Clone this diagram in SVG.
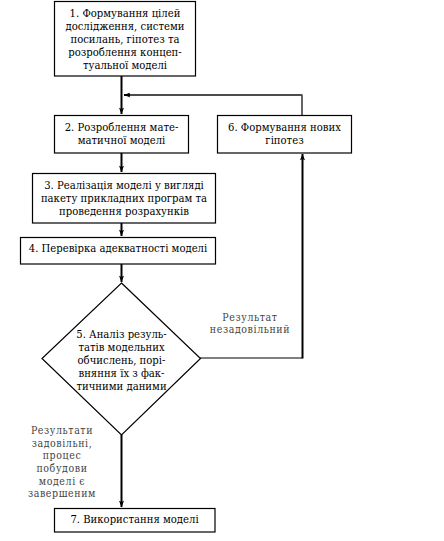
<svg xmlns="http://www.w3.org/2000/svg" width="444" height="541" viewBox="0 0 444 541">
<style>
.box{fill:#fff;stroke:#000;stroke-width:1.2}
.t{font-family:"DejaVu Serif Condensed","DejaVu Serif","Liberation Serif",serif;font-stretch:condensed;font-size:11.2px;fill:#000;text-anchor:middle}
.lbl{font-family:"DejaVu Serif Condensed","DejaVu Serif","Liberation Serif",serif;font-stretch:condensed;font-size:10.5px;fill:#444;text-anchor:middle;letter-spacing:0.6px}
.c{fill:none;stroke:#000;stroke-width:2}
.c1{fill:none;stroke:#000;stroke-width:1.2}
</style>
<defs>
<marker id="ah" viewBox="0 0 10 8" refX="10" refY="4" markerWidth="7" markerHeight="5" markerUnits="userSpaceOnUse" orient="auto">
<path d="M0,0 L10,4 L0,8 L2,4 Z" fill="#000"/>
</marker>
</defs>
<rect width="444" height="541" fill="#fff"/>
<g id="connectors">
<line class="c" x1="121.5" y1="76" x2="121.5" y2="114" marker-end="url(#ah)"/>
<polyline class="c1" points="302,115 302,95 135,95"/>
<line class="c" x1="302" y1="95" x2="124" y2="95" marker-end="url(#ah)"/>
<line x1="302" y1="95" x2="130" y2="95" stroke="#fff" stroke-width="0.6"/>
<line class="c" x1="121.5" y1="153" x2="121.5" y2="172" marker-end="url(#ah)"/>
<line class="c" x1="121.5" y1="223" x2="121.5" y2="236" marker-end="url(#ah)"/>
<line class="c" x1="121.5" y1="264" x2="121.5" y2="282" marker-end="url(#ah)"/>
<polyline class="c1" points="200,358 302.5,358"/>
<line class="c" x1="302.5" y1="358.5" x2="302.5" y2="154" marker-end="url(#ah)"/>
<line class="c" x1="121.5" y1="435" x2="121.5" y2="507" marker-end="url(#ah)"/>
</g>
<g id="node1">
<rect class="box" x="54.5" y="1.5" width="141" height="74.5"/>
<text class="t" x="125" y="17">1. Формування цілей</text>
<text class="t" x="125" y="30">дослідження, системи</text>
<text class="t" x="125" y="43">посилань, гіпотез та</text>
<text class="t" x="125" y="56">розроблення концеп-</text>
<text class="t" x="125" y="69">туальної моделі</text>
</g>
<g id="node2">
<rect class="box" x="54.5" y="115.5" width="134" height="37.5"/>
<text class="t" x="121.5" y="130.5">2. Розроблення мате-</text>
<text class="t" x="121.5" y="143.5">матичної моделі</text>
</g>
<g id="node6">
<rect class="box" x="217.5" y="115.5" width="134" height="37.5"/>
<text class="t" x="284.5" y="130.5">6. Формування нових</text>
<text class="t" x="284.5" y="143.5">гіпотез</text>
</g>
<g id="node3">
<rect class="box" x="32.5" y="173.5" width="183" height="49.5"/>
<text class="t" x="124" y="189">3. Реалізація моделі у вигляді</text>
<text class="t" x="124" y="202">пакету прикладних програм та</text>
<text class="t" x="124" y="215">проведення розрахунків</text>
</g>
<g id="node4">
<rect class="box" x="20.5" y="237.5" width="195" height="26.5"/>
<text class="t" x="118" y="252">4. Перевірка адекватності моделі</text>
</g>
<g id="node5">
<polygon class="box" points="121.5,283 200.5,358.5 121.5,435 42,358.5"/>
<text class="t" x="121.5" y="338">5. Аналіз резуль-</text>
<text class="t" x="121.5" y="351">татів модельних</text>
<text class="t" x="121.5" y="364">обчислень, порі-</text>
<text class="t" x="121.5" y="377">вняння їх з фак-</text>
<text class="t" x="121.5" y="390">тичними даними</text>
</g>
<g id="node7">
<rect class="box" x="54.5" y="508.5" width="160.5" height="23.5"/>
<text class="t" x="134.5" y="523">7. Використання моделі</text>
</g>
<g id="labels">
<text class="lbl" x="250" y="321">Результат</text>
<text class="lbl" x="250" y="333">незадовільний</text>
<text class="lbl" x="62" y="434">Результати</text>
<text class="lbl" x="62" y="447">задовільні,</text>
<text class="lbl" x="62" y="459">процес</text>
<text class="lbl" x="62" y="472">побудови</text>
<text class="lbl" x="62" y="485">моделі є</text>
<text class="lbl" x="62" y="497">завершеним</text>
</g>
</svg>
